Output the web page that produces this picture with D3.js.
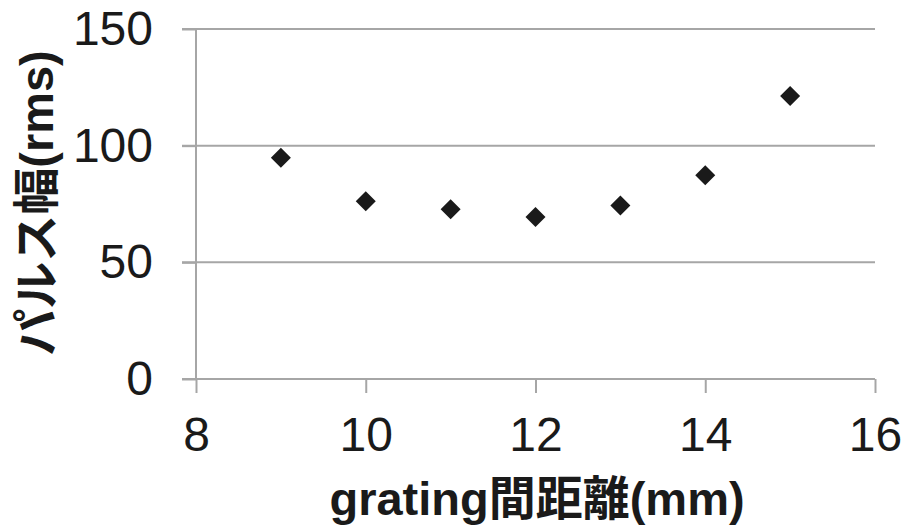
<!DOCTYPE html>
<html><head><meta charset="utf-8">
<script src="https://cdn.jsdelivr.net/npm/d3@7"></script>
<style>body{margin:0;background:#fff}svg{display:block}</style>
</head><body>
<script>
const xValues = [9, 10, 11, 12, 13, 14, 15];
const yValues = [94.8, 76.2, 72.7, 69.4, 74.4, 87.3, 121.3];
const xTicks = [8, 10, 12, 14, 16];
const yTicks = [0, 50, 100, 150];
const xTitle = "grating間距離(mm)";
const yTitle = "パルス幅(rms)";

const W = 904, H = 526;
const m = {left: 196, right: 29, top: 29, bottom: 147};
const svg = d3.select("body").append("svg").attr("width", W).attr("height", H);
const x = d3.scaleLinear().domain([8, 16]).range([m.left, W - m.right]);
const y = d3.scaleLinear().domain([0, 150]).range([H - m.bottom, m.top]);
const grid = "#a6a6a6";
const font = "'Liberation Sans', Arial, sans-serif";

// gridlines
svg.append("g").selectAll("line").data(yTicks.filter(d => d > 0)).join("line")
  .attr("x1", x(8) - 14).attr("x2", x(16)).attr("y1", d => y(d)).attr("y2", d => y(d))
  .attr("stroke", grid).attr("stroke-width", 2);

// y axis
const ya = svg.append("g").attr("transform", `translate(${x(8)},0)`)
  .call(d3.axisLeft(y).tickValues(yTicks).tickSize(14).tickPadding(29));
ya.select(".domain").remove();
ya.append("line").attr("y1", y(0)).attr("y2", y(150)).attr("stroke", grid).attr("stroke-width", 2);
ya.selectAll(".tick line").attr("stroke", grid).attr("stroke-width", 2);
ya.selectAll(".tick text").attr("fill", "#1a1a1a").attr("font-size", 48).attr("font-family", font);

// x axis
const xa = svg.append("g").attr("transform", `translate(0,${y(0)})`)
  .call(d3.axisBottom(x).tickValues(xTicks).tickSize(14).tickPadding(24));
xa.select(".domain").remove();
xa.append("line").attr("x1", x(8) - 14).attr("x2", x(16)).attr("stroke", grid).attr("stroke-width", 2);
xa.selectAll(".tick line").attr("stroke", grid).attr("stroke-width", 2);
xa.selectAll(".tick text").attr("fill", "#1a1a1a").attr("font-size", 48).attr("font-family", font);

// points
const s = 10;
svg.append("g").selectAll("path").data(xValues.map((v, i) => [v, yValues[i]])).join("path")
  .attr("d", d => { const cx = x(d[0]), cy = y(d[1]);
    return `M${cx},${cy - s}L${cx + s},${cy}L${cx},${cy + s}L${cx - s},${cy}Z`; })
  .attr("fill", "#1a1a1a");

// titles
svg.append("text").attr("x", 537).attr("y", 515)
  .attr("text-anchor", "middle").attr("font-size", 47).attr("font-weight", "bold")
  .attr("font-family", font + ", 'Noto Sans CJK JP'").attr("fill", "#1a1a1a").text(xTitle);
svg.append("text").attr("transform", `translate(53,203) rotate(-90)`)
  .attr("text-anchor", "middle").attr("font-size", 47).attr("font-weight", "bold")
  .attr("font-family", font + ", 'Noto Sans CJK JP'").attr("fill", "#1a1a1a").text(yTitle);
</script>
</body></html>
